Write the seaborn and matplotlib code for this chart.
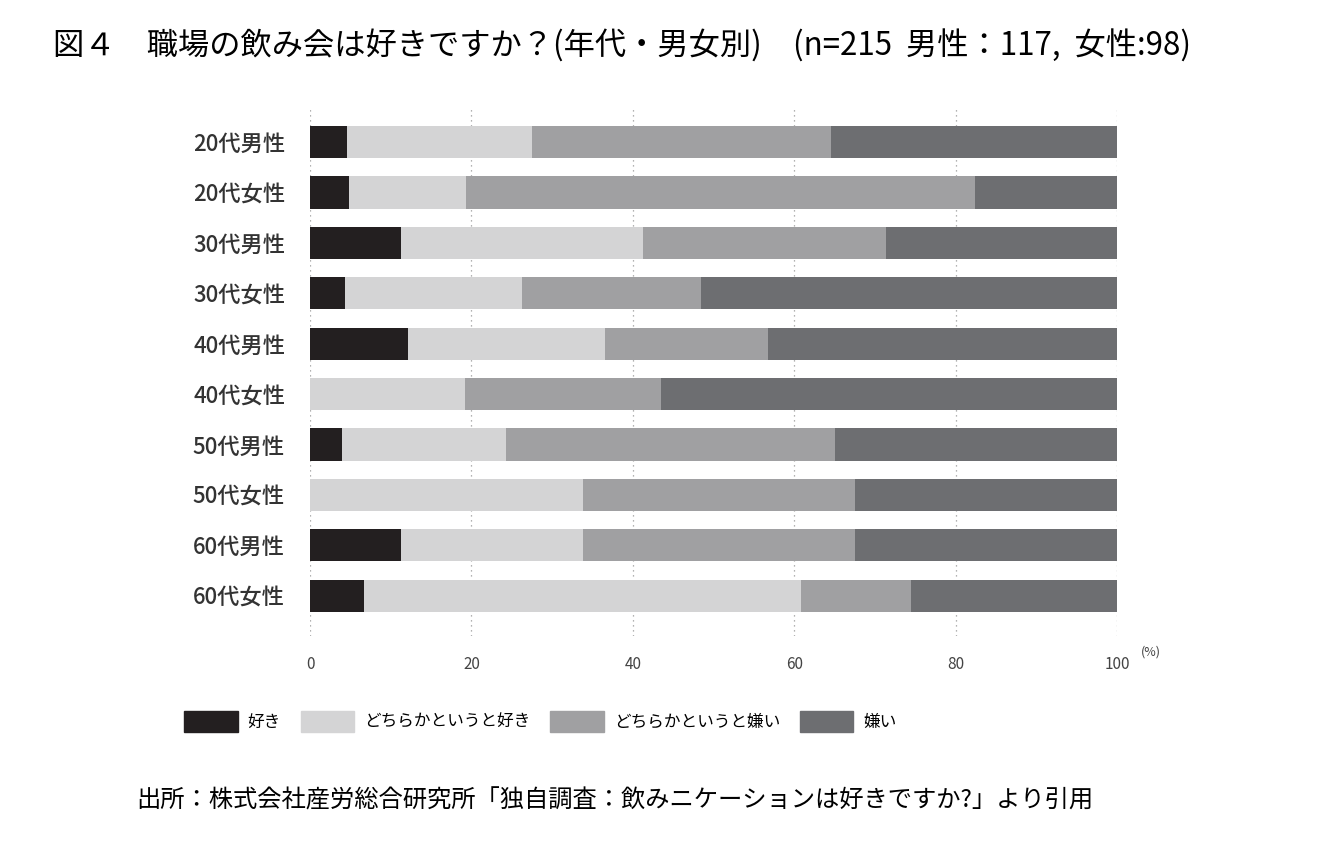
import matplotlib
matplotlib.use("Agg")
import matplotlib.pyplot as plt
import seaborn as sns
import pandas as pd
import numpy as np

plt.rcParams["font.family"] = "Noto Sans CJK JP"

groups = ["20代男性", "20代女性", "30代男性", "30代女性", "40代男性",
          "40代女性", "50代男性", "50代女性", "60代男性", "60代女性"]
series = ["好き", "どちらかというと好き", "どちらかというと嫌い", "嫌い"]
like = [4.6, 4.8, 11.3, 4.3, 12.1, 0.0, 4.0, 0.0, 11.3, 6.7]
some_like = [22.9, 14.5, 30.0, 22.0, 24.5, 19.2, 20.3, 33.8, 22.5, 54.1]
some_dislike = [37.1, 63.1, 30.1, 22.2, 20.2, 24.3, 40.8, 33.7, 33.7, 13.7]
dislike = [35.4, 17.6, 28.6, 51.5, 43.2, 56.5, 34.9, 32.5, 32.5, 25.5]
colors = ["#231f20", "#d4d4d5", "#a0a0a2", "#6d6e71"]

df = pd.DataFrame({"group": groups, series[0]: like, series[1]: some_like,
                   series[2]: some_dislike, series[3]: dislike})

fig = plt.figure(figsize=(13.22, 8.47), dpi=100)
ax = fig.add_axes([0.2345, 0.249, 0.6105, 0.625])

left = np.zeros(len(groups))
for s, c in zip(series, colors):
    sns.barplot(data=df, y="group", x=s, left=left, color=c, orient="h",
                width=0.64, ax=ax, label=s, saturation=1, linewidth=0)
    left += df[s].values

ax.set_xlim(0, 100)
ax.set_xticks([0, 20, 40, 60, 80, 100])
ax.set_xticklabels(["0", "20", "40", "60", "80", "100"], color="#444", fontsize=11)
ax.text(103, len(groups) - 0.5 + 0.62, "(%)", fontsize=9, color="#444", va="center")
ax.set_xlabel("")
ax.set_ylabel("")
ax.tick_params(axis="y", length=0, labelsize=16, labelcolor="#333", pad=18)
for lbl in ax.get_yticklabels():
    lbl.set_fontweight("medium")
ax.tick_params(axis="x", length=0, pad=14)
for sp in ax.spines.values():
    sp.set_visible(False)
ax.set_axisbelow(True)
ax.xaxis.grid(True, linestyle=(0, (1, 3)), color="#999", linewidth=0.9)
ax.set_ylim(len(groups) - 0.5 + 0.3, -0.5 - 0.2)
ax.legend_.remove()

handles = [plt.Rectangle((0, 0), 1, 1, color=c) for c in colors]
fig.legend(handles, series, loc="center left", bbox_to_anchor=(0.128, 0.148),
           ncol=4, frameon=False, fontsize=12, handlelength=3.2, handleheight=1.6,
           columnspacing=1.2, handletextpad=0.6)

fig.text(0.04, 0.945, "図４　職場の飲み会は好きですか？(年代・男女別)　(n=215  男性：117,  女性:98)",
         fontsize=22.5, va="center", ha="left")
fig.text(0.103, 0.055, "出所：株式会社産労総合研究所「独自調査：飲みニケーションは好きですか?」より引用",
         fontsize=17.5, va="center", ha="left")

fig.savefig("out.png", dpi=100, facecolor="white")
